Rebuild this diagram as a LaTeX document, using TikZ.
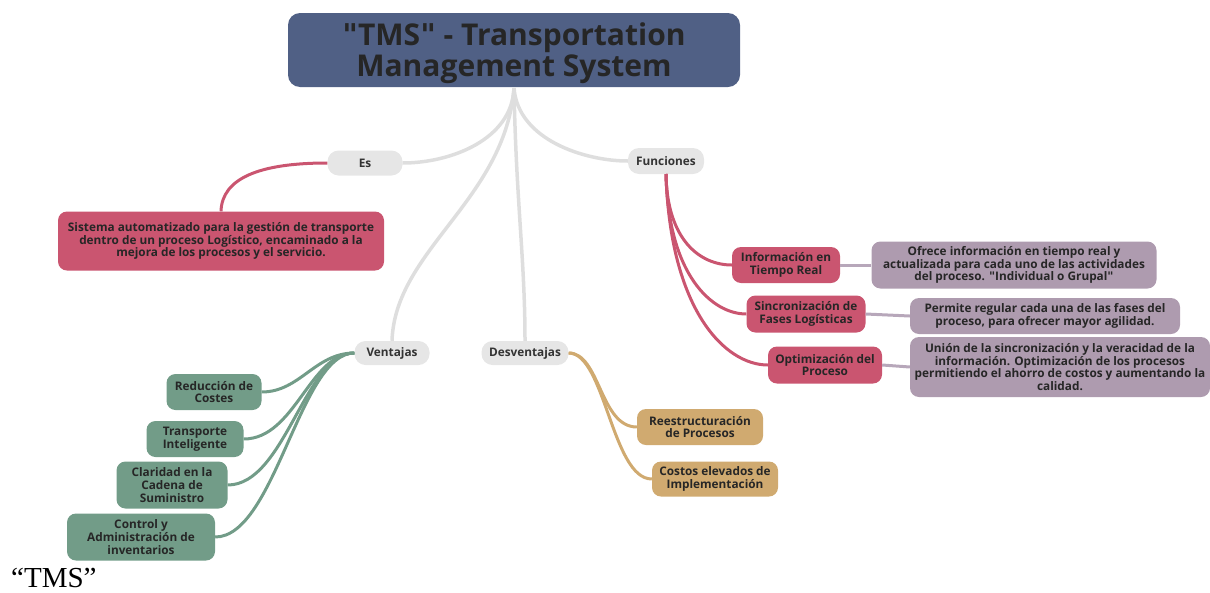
\documentclass[tikz,border=0pt]{standalone}
\usepackage{fontspec}
\setmainfont{Open Sans}[Ligatures=NoCommon]
\newfontfamily\serifface{Liberation Serif}
\newfontfamily\quoteface{DejaVu Sans}
\newcommand{\sq}{{\quoteface\char"22}}
\begin{document}
\definecolor{titlefill}{HTML}{506085}
\definecolor{greyfill}{HTML}{E6E6E6}
\definecolor{redfill}{HTML}{CA5570}
\definecolor{lilacfill}{HTML}{AE9BAF}
\definecolor{greenfill}{HTML}{729C88}
\definecolor{tanfill}{HTML}{D0AA70}
\definecolor{greyline}{HTML}{DEDEDE}
\definecolor{lilacline}{HTML}{B7A7BA}
\begin{tikzpicture}[x=1pt,y=-1pt,
  box/.style={rounded corners=9pt, align=center, inner sep=0pt, font=\fontsize{11.8}{12.6}\selectfont\bfseries},
  titlebox/.style={box, rounded corners=12pt, fill=titlefill, text=black!85, font=\fontsize{30}{29}\selectfont\bfseries},
  greybox/.style={box, rounded corners=11pt, fill=greyfill, text=black!80},
  redbox/.style={box, fill=redfill, text=black!85},
  lilacbox/.style={box, fill=lilacfill, text=black!85},
  greenbox/.style={box, fill=greenfill, text=black!85},
  tanbox/.style={box, fill=tanfill, text=black!85},
  trunk/.style={draw=greyline, line width=3.5pt},
  redlink/.style={draw=redfill, line width=3pt},
  lilaclink/.style={draw=lilacline, line width=3pt},
  greenlink/.style={draw=greenfill, line width=3pt},
  tanlink/.style={draw=tanfill, line width=3pt}]
\useasboundingbox (0,0) rectangle (1210,592);

% branch roots
\coordinate (root) at (514,88);
\coordinate (fr) at (666,174);

% central topic and first-level topics
\node[titlebox, minimum width=452pt, minimum height=74pt] (T) at (514,50)
  {\raisebox{-4pt}[\height][\depth]{\begin{tabular}{@{}c@{}}\sq TMS\sq{} - Transportation\\Management System\end{tabular}}};
\node[greybox, minimum width=75pt, minimum height=25pt] (Es) at (365,163) {Es};
\node[greybox, minimum width=76pt, minimum height=26pt] (Fn) at (666,161) {Funciones};
\node[greybox, minimum width=75pt, minimum height=24pt] (Ve) at (392,353) {Ventajas};
\node[greybox, minimum width=87pt, minimum height=24pt] (De) at (525,353) {Desventajas};

% Es
\node[redbox, minimum width=326pt, minimum height=59pt] (Si) at (221,241) {Sistema automatizado para la gestión de transporte\\dentro de un proceso Logístico, encaminado a la\\mejora de los procesos y el servicio.};

% Funciones
\node[redbox, minimum width=108pt, minimum height=36pt] (F1) at (786,265) {Información en\\Tiempo Real};
\node[redbox, minimum width=119pt, minimum height=37pt] (F2) at (806,314) {Sincronización de\\Fases Logísticas};
\node[redbox, minimum width=114pt, minimum height=37pt] (F3) at (825,365) {Optimización del\\Proceso};
\node[lilacbox, minimum width=285pt, minimum height=47pt] (D1) at (1014,265) {Ofrece información en tiempo real y\\actualizada para cada uno de las actividades\\del proceso. \sq Individual o Grupal\sq};
\node[lilacbox, minimum width=270pt, minimum height=36pt] (D2) at (1045,316) {Permite regular cada una de las fases del\\proceso, para ofrecer mayor agilidad.};
\node[lilacbox, minimum width=300pt, minimum height=60pt] (D3) at (1060,367) {Unión de la sincronización y la veracidad de la\\información. Optimización de los procesos\\permitiendo el ahorro de costos y aumentando la\\calidad.};

% Ventajas
\node[greenbox, minimum width=95pt, minimum height=36pt] (V1) at (214,392) {Reducción de\\Costes};
\node[greenbox, minimum width=97pt, minimum height=36pt] (V2) at (195,439) {Transporte\\Inteligente};
\node[greenbox, minimum width=111pt, minimum height=47pt] (V3) at (172,485) {Claridad en la\\Cadena de\\Suministro};
\node[greenbox, minimum width=148pt, minimum height=47pt] (V4) at (141,537) {Control y\\Administración de\\inventarios};

% Desventajas
\node[tanbox, minimum width=126pt, minimum height=36pt] (N1) at (700,427) {Reestructuración\\de Procesos};
\node[tanbox, minimum width=126pt, minimum height=35pt] (N2) at (715,479) {Costos elevados de\\Implementación};

% caption below the map
\node[font=\serifface\fontsize{29}{30}\selectfont, anchor=base west, inner sep=0pt] (cap) at (11,587) {“TMS”};

% connectors
\path[trunk] (root) .. controls (512,140) and (450,163) .. (Es.east);
\path[trunk] (root) .. controls (518,140) and (585,161) .. (Fn.west);
\path[trunk] (root) .. controls (505,200) and (395,250) .. (Ve.north);
\path[trunk] (root) .. controls (516,200) and (525,260) .. (De.north);

\path[redlink] (Es.west) .. controls (260,163) and (222,178) .. (Si.north);

\path[redlink] (fr) .. controls (667,240) and (700,265) .. (F1.west);
\path[redlink] (fr) .. controls (668,275) and (712,314) .. (F2.west);
\path[redlink] (fr) .. controls (670,310) and (725,365) .. (F3.west);
\path[lilaclink] (F1.east) -- (D1.west);
\path[lilaclink] (F2.east) -- (D2.west);
\path[lilaclink] (F3.east) -- (D3.west);

\path[greenlink] (Ve.west) .. controls (315,353) and (300,392) .. (V1.east);
\path[greenlink] (Ve.west) .. controls (310,353) and (295,439) .. (V2.east);
\path[greenlink] (Ve.west) .. controls (305,353) and (285,485) .. (V3.east);
\path[greenlink] (Ve.west) .. controls (300,353) and (275,537) .. (V4.east);

\path[tanlink] (De.east) .. controls (600,353) and (600,427) .. (N1.west);
\path[tanlink] (De.east) .. controls (605,353) and (612,479) .. (N2.west);
\end{tikzpicture}
\end{document}
